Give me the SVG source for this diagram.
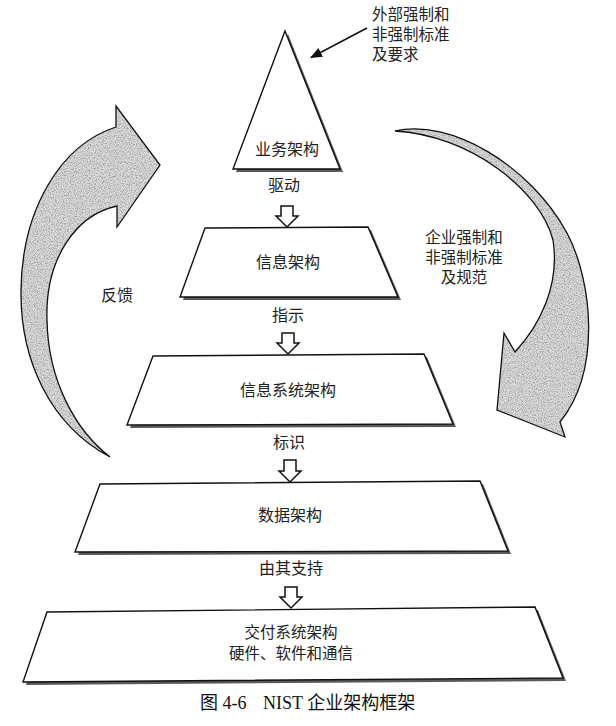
<svg xmlns="http://www.w3.org/2000/svg" xmlns:xlink="http://www.w3.org/1999/xlink" width="616" height="726" viewBox="0 0 616 726">
<style>
  text { font-family: "Noto Sans CJK SC", "Liberation Sans", sans-serif; font-size: 16px; fill: #222; }
  .c { text-anchor: middle; }
  .ml { font-family: "Liberation Sans", "Noto Sans CJK SC", sans-serif; font-size: 15.5px; }
  .shape { fill: #fff; stroke: #111; stroke-width: 1.4; stroke-linejoin: miter; }
  .shadow { fill: #5a5a5a; stroke: none; }
  .hollow { fill: #fff; stroke: #111; stroke-width: 1.5; stroke-linejoin: miter; }
  .bigfill { fill: #dadada; stroke: none; }
  .bigline { fill: none; stroke: #111; stroke-width: 1.3; }
  .cap { font-family: "Liberation Serif", "Noto Sans CJK SC", serif; font-size: 18px; fill: #111; }
</style>
<defs>
  <filter id="speckle" x="0" y="0" width="100%" height="100%">
    <feTurbulence type="fractalNoise" baseFrequency="0.85" numOctaves="2" seed="7" result="noise"/>
    <feColorMatrix in="noise" type="matrix" values="0 0 0 0 0.35  0 0 0 0 0.35  0 0 0 0 0.35  3 0 0 0 -1.25" result="dots"/>
    <feComposite in="dots" in2="SourceAlpha" operator="in" result="clipped"/>
    <feMerge><feMergeNode in="SourceGraphic"/><feMergeNode in="clipped"/></feMerge>
  </filter>
  <marker id="solid" viewBox="0 0 12 10" refX="11" refY="5" markerWidth="12" markerHeight="10" markerUnits="userSpaceOnUse" orient="auto">
    <path d="M0,0 L12,5 L0,10 Z" fill="#111"/>
  </marker>
  <path id="leftArrow" d="M110,457 C50,425 20,360 21,290 C22,210 60,145 116,127 L116,106 L160,165 L117,227 L117,206 C75,215 45,260 47,320 C48,380 75,430 110,457 Z"/>
  <path id="rightArrow" d="M395,131 C450,118 530,165 567,233 C592,280 602,370 560,422 L565,437 L497,410 L504,333 L515,352 C540,325 560,285 553,240 C540,190 470,135 395,131 Z"/>
</defs>

<g id="connectors">
  <g id="feedback-arrow">
    <use xlink:href="#leftArrow" class="bigfill" filter="url(#speckle)"/>
    <use xlink:href="#leftArrow" class="bigline"/>
  </g>
  <g id="standards-arrow">
    <use xlink:href="#rightArrow" class="bigfill" filter="url(#speckle)"/>
    <use xlink:href="#rightArrow" class="bigline"/>
  </g>
  <line id="external-arrow" x1="367" y1="28" x2="311" y2="57.5" stroke="#111" stroke-width="1.5" marker-end="url(#solid)"/>
  <path class="hollow" d="M281,206 H293 V216 H298 L287,227 L276,216 H281 Z"/>
  <path class="hollow" d="M282,333 H294 V343 H299 L288,354 L277,343 H282 Z"/>
  <path class="hollow" d="M284,460 H296 V471 H301 L290,482 L279,471 H284 Z"/>
  <path class="hollow" d="M285,587 H297 V597 H302 L291,608 L280,597 H285 Z"/>
</g>

<g id="external-label">
  <text class="ml" x="372" y="20">外部强制和<tspan x="372" dy="20">非强制标准</tspan><tspan x="372" dy="20">及要求</tspan></text>
</g>

<g id="business">
  <polygon class="shadow" points="288,34 343,172 236,172"/>
  <polygon class="shape" points="285,31 340,169 233,169"/>
  <text class="c" x="287" y="155">业务架构</text>
</g>

<text class="c" x="284" y="191">驱动</text>

<g id="information">
  <polygon class="shadow" points="208,231 371,230 401,300 183,300"/>
  <polygon class="shape" points="205,228 368,227 398,297 180,297"/>
  <text class="c" x="288" y="268">信息架构</text>
</g>

<text class="c" x="288" y="321">指示</text>

<g id="info-system">
  <polygon class="shadow" points="156,359 427,357 456,427 130,428"/>
  <polygon class="shape" points="153,356 424,354 453,424 127,425"/>
  <text class="c" x="288" y="396">信息系统架构</text>
</g>

<text class="c" x="289" y="448">标识</text>

<g id="data">
  <polygon class="shadow" points="103,487 483,484 511,554 78,555"/>
  <polygon class="shape" points="100,484 480,481 508,551 75,552"/>
  <text class="c" x="290" y="521">数据架构</text>
</g>

<text class="c" x="291" y="574">由其支持</text>

<g id="delivery">
  <polygon class="shadow" points="50,615 538,610 566,681 26,685"/>
  <polygon class="shape" points="47,612 535,607 563,678 23,682"/>
  <text class="c ml" x="291" y="638">交付系统架构<tspan x="291" dy="21">硬件、软件和通信</tspan></text>
</g>

<text id="feedback-label" class="c" x="117" y="301">反馈</text>

<g id="enterprise-label">
  <text class="c ml" x="464" y="243">企业强制和<tspan x="464" dy="20">非强制标准</tspan><tspan x="464" dy="20">及规范</tspan></text>
</g>

<text class="cap" x="200" y="709">图 4-6<tspan x="263">NIST 企业架构框架</tspan></text>
</svg>
